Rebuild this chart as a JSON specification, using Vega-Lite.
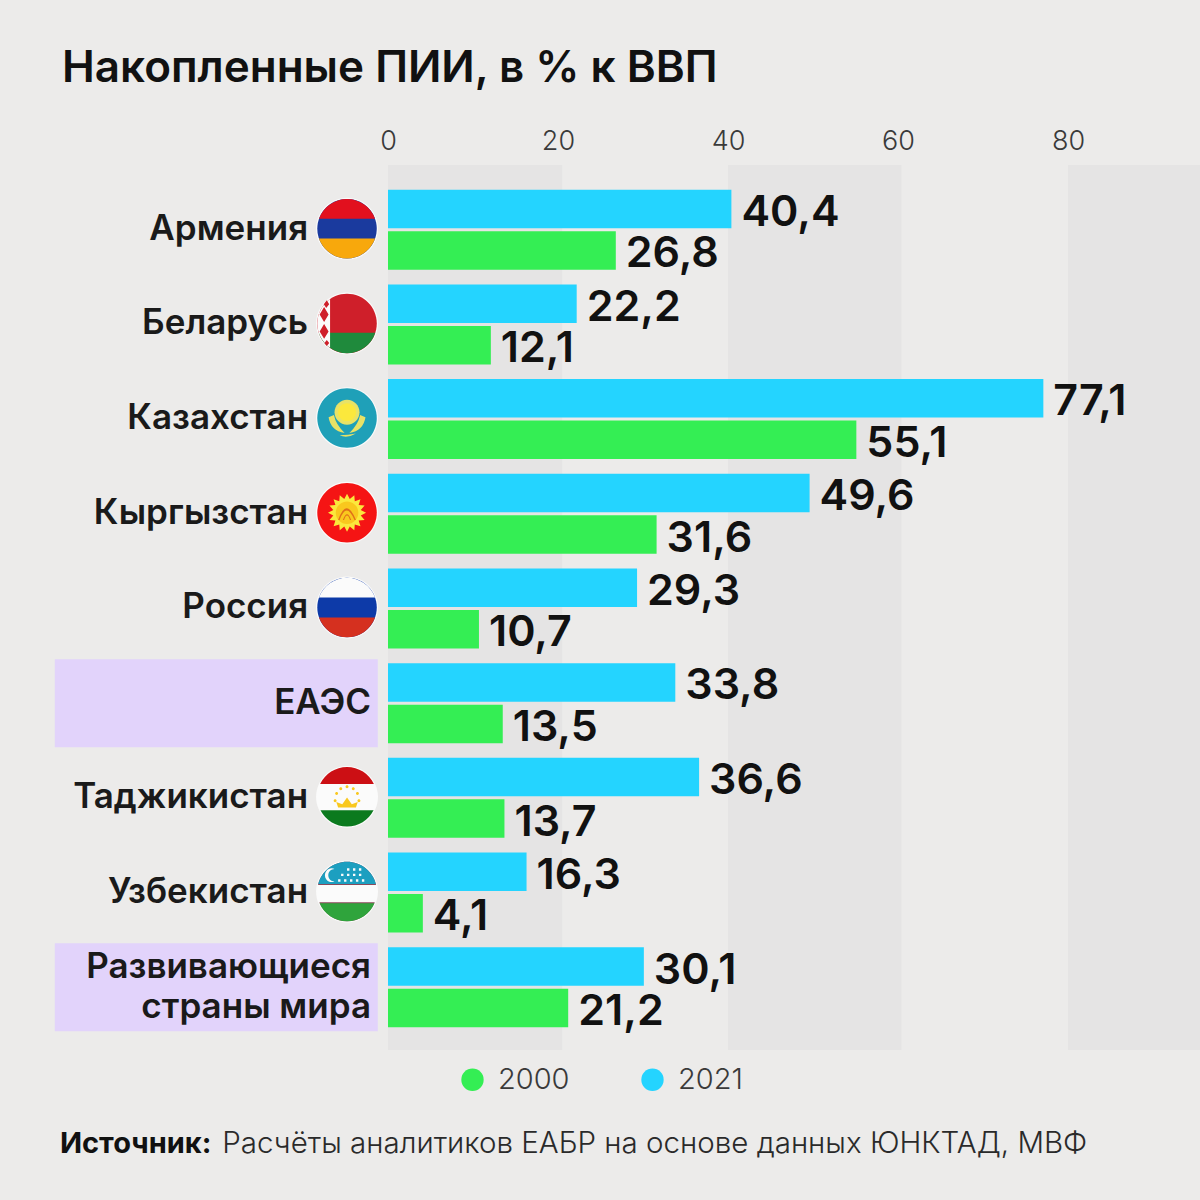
{"$schema":"https://vega.github.io/schema/vega-lite/v6.json","width":812,"height":885,"autosize":{"type":"none"},"padding":{"left":388,"top":165,"right":0,"bottom":150},"background":"#ecebea","config":{"view":{"stroke":null},"font":"Inter"},
"title":{"text":"Накопленные ПИИ, в % к ВВП","anchor":"start","frame":"group","dx":-326,"dy":-32,"fontSize":44,"fontWeight":600,"color":"#111111","font":"Inter"},
"datasets":{"bars":[
{"group":"Армения","year":"2021","value":40.4,"label":"40,4"},{"group":"Армения","year":"2000","value":26.8,"label":"26,8"},
{"group":"Беларусь","year":"2021","value":22.2,"label":"22,2"},{"group":"Беларусь","year":"2000","value":12.1,"label":"12,1"},
{"group":"Казахстан","year":"2021","value":77.1,"label":"77,1"},{"group":"Казахстан","year":"2000","value":55.1,"label":"55,1"},
{"group":"Кыргызстан","year":"2021","value":49.6,"label":"49,6"},{"group":"Кыргызстан","year":"2000","value":31.6,"label":"31,6"},
{"group":"Россия","year":"2021","value":29.3,"label":"29,3"},{"group":"Россия","year":"2000","value":10.7,"label":"10,7"},
{"group":"ЕАЭС","year":"2021","value":33.8,"label":"33,8"},{"group":"ЕАЭС","year":"2000","value":13.5,"label":"13,5"},
{"group":"Таджикистан","year":"2021","value":36.6,"label":"36,6"},{"group":"Таджикистан","year":"2000","value":13.7,"label":"13,7"},
{"group":"Узбекистан","year":"2021","value":16.3,"label":"16,3"},{"group":"Узбекистан","year":"2000","value":4.1,"label":"4,1"},
{"group":"Развивающиеся страны мира","year":"2021","value":30.1,"label":"30,1"},{"group":"Развивающиеся страны мира","year":"2000","value":21.2,"label":"21,2"}
],
"flags":[
{"group":"Армения","part":"halo","tone":"white"},{"group":"Армения","part":"disc","tone":"amblue"},{"group":"Армения","part":"top33","tone":"amred"},{"group":"Армения","part":"bot33","tone":"amber"},
{"group":"Беларусь","part":"halo","tone":"white"},{"group":"Беларусь","part":"disc","tone":"byred"},{"group":"Беларусь","part":"bot31","tone":"bygreen"},{"group":"Беларусь","part":"hoist","tone":"white"},{"group":"Беларусь","part":"orn","tone":"byred"},
{"group":"Казахстан","part":"halo","tone":"white"},{"group":"Казахстан","part":"disc","tone":"teal"},{"group":"Казахстан","part":"kzrays","tone":"pale"},{"group":"Казахстан","part":"kzsun","tone":"yellow"},{"group":"Казахстан","part":"kzwings","tone":"pale"},
{"group":"Кыргызстан","part":"halo","tone":"white"},{"group":"Кыргызстан","part":"disc","tone":"kgred"},{"group":"Кыргызстан","part":"kgstar","tone":"yellow"},{"group":"Кыргызстан","part":"kgsun","tone":"gold"},{"group":"Кыргызстан","part":"kgdome","tone":"kgdark"},
{"group":"Россия","part":"halo","tone":"white"},{"group":"Россия","part":"disc","tone":"rublue"},{"group":"Россия","part":"top33","tone":"white"},{"group":"Россия","part":"bot33","tone":"rured"},
{"group":"Таджикистан","part":"halo","tone":"white"},{"group":"Таджикистан","part":"disc","tone":"white"},{"group":"Таджикистан","part":"top43","tone":"tjred"},{"group":"Таджикистан","part":"bot45","tone":"tjgreen"},{"group":"Таджикистан","part":"crown","tone":"gold"},
{"group":"Узбекистан","part":"halo","tone":"white"},{"group":"Узбекистан","part":"disc","tone":"white"},{"group":"Узбекистан","part":"top22","tone":"uzline"},{"group":"Узбекистан","part":"top25","tone":"uzblue"},{"group":"Узбекистан","part":"bot36","tone":"uzline"},{"group":"Узбекистан","part":"bot39","tone":"uzgreen"},{"group":"Узбекистан","part":"uzstars","tone":"white"}
],
"names":[
{"group":"Армения","lines":"Армения","kind":"country"},{"group":"Беларусь","lines":"Беларусь","kind":"country"},{"group":"Казахстан","lines":"Казахстан","kind":"country"},{"group":"Кыргызстан","lines":"Кыргызстан","kind":"country"},{"group":"Россия","lines":"Россия","kind":"country"},{"group":"Таджикистан","lines":"Таджикистан","kind":"country"},{"group":"Узбекистан","lines":"Узбекистан","kind":"country"},
{"group":"ЕАЭС","lines":"ЕАЭС","kind":"bloc"},{"group":"Развивающиеся страны мира","lines":"Развивающиеся|страны мира","kind":"wrapped"}
]},
"layer":[
{"data":{"values":[{"from":0,"to":20.5},{"from":40,"to":60.4},{"from":80,"to":95.53}]},"mark":{"type":"rect","fill":"#e5e4e4"},
"encoding":{"x":{"field":"from","type":"quantitative","scale":{"domain":[0,95.53],"nice":false,"zero":false},"axis":{"orient":"top","title":null,"values":[0,20,40,60,80],"domain":false,"ticks":false,"grid":false,"labelFontSize":27,"labelColor":"#3a3a3a","labelFontWeight":300,"labelPadding":10,"labelFlush":false,"labelFont":"Inter"}},"x2":{"field":"to"}}},
{"data":{"name":"bars"},"transform":[{"filter":"datum.year==='2021'&&(datum.group==='ЕАЭС'||datum.group==='Развивающиеся страны мира')"}],"mark":{"type":"bar","fill":"#e2d3fb","height":{"band":0.93}},
"encoding":{"y":{"field":"group","type":"nominal","axis":null},"x":{"datum":-39.2,"type":"quantitative"},"x2":{"datum":-1.2}}},
{"data":{"name":"flags"},"mark":{"type":"point","filled":true,"opacity":1,"size":3540,"strokeWidth":0,"yOffset":-1},
"encoding":{"y":{"field":"group","type":"nominal","axis":null},"x":{"datum":-4.82,"type":"quantitative"},
"shape":{"field":"part","type":"nominal","legend":null,"scale":{"domain":["halo","disc","top33","bot33","bot31","hoist","orn","kzrays","kzsun","kzwings","kgstar","kgsun","kgdome","top43","bot45","crown","top22","top25","bot36","bot39","uzstars"],
"range":[
"M-1.04,0A1.04,1.04,0,1,1,1.04,0A1.04,1.04,0,1,1,-1.04,0Z",
"M-1,0A1,1,0,1,1,1,0A1,1,0,1,1,-1,0Z",
"M-0.943,-0.333A1,1,0,0,1,0.943,-0.333Z",
"M0.943,0.333A1,1,0,0,1,-0.943,0.333Z",
"M0.951,0.31A1,1,0,0,1,-0.951,0.31Z",
"M-0.57,-0.82A1,1,0,0,0,-0.57,0.82Z",
"M-0.77,-0.55L-0.62,-0.3L-0.77,-0.05L-0.92,-0.3ZM-0.77,-0.38L-0.72,-0.3L-0.77,-0.22L-0.82,-0.3ZM-0.77,0.02L-0.62,0.27L-0.77,0.52L-0.92,0.27ZM-0.77,0.19L-0.72,0.27L-0.77,0.35L-0.82,0.27ZM-0.68,-0.78L-0.6,-0.64L-0.7,-0.52L-0.78,-0.64ZM-0.68,0.56L-0.6,0.66L-0.68,0.76L-0.76,0.66Z",
"M-0.42,-0.2A0.42,0.42,0,1,1,0.42,-0.2A0.42,0.42,0,1,1,-0.42,-0.2Z",
"M-0.3,-0.2A0.3,0.3,0,1,1,0.3,-0.2A0.3,0.3,0,1,1,-0.3,-0.2Z",
"M-0.62,-0.03Q-0.55,0.42,-0.08,0.5Q-0.38,0.22,-0.44,-0.1ZM0.62,-0.03Q0.55,0.42,0.08,0.5Q0.38,0.22,0.44,-0.1ZM-0.25,0.58Q0,0.7,0.3,0.52Q0.05,0.58,-0.25,0.58Z",
"M0.64,0L0.461,0.092L0.591,0.245L0.391,0.261L0.452,0.452L0.261,0.391L0.245,0.591L0.092,0.461L0,0.64L-0.092,0.461L-0.245,0.591L-0.261,0.391L-0.452,0.452L-0.391,0.261L-0.591,0.245L-0.461,0.092L-0.64,0L-0.461,-0.092L-0.591,-0.245L-0.391,-0.261L-0.452,-0.452L-0.261,-0.391L-0.245,-0.591L-0.092,-0.461L0,-0.64L0.092,-0.461L0.245,-0.591L0.261,-0.391L0.452,-0.452L0.391,-0.261L0.591,-0.245L0.461,-0.092Z",
"M-0.38,0A0.38,0.38,0,1,1,0.38,0A0.38,0.38,0,1,1,-0.38,0Z",
"M-0.3,0.24Q-0.02,-0.55,0.3,0.24L0.25,0.24Q-0.02,-0.4,-0.25,0.24ZM-0.14,0.24Q0,-0.15,0.14,0.24L0.1,0.24Q0,-0.05,-0.1,0.24Z",
"M-0.903,-0.43A1,1,0,0,1,0.903,-0.43Z",
"M0.893,0.45A1,1,0,0,1,-0.893,0.45Z",
"M-0.3,0.36L-0.36,0.17L-0.16,0.25L0,0.02L0.16,0.25L0.36,0.17L0.3,0.36ZM-0.45,0.13A0.05,0.05,0,1,1,-0.35,0.13A0.05,0.05,0,1,1,-0.45,0.13ZM-0.4,-0.11A0.05,0.05,0,1,1,-0.3,-0.11A0.05,0.05,0,1,1,-0.4,-0.11ZM-0.26,-0.27A0.05,0.05,0,1,1,-0.16,-0.27A0.05,0.05,0,1,1,-0.26,-0.27ZM-0.05,-0.34A0.05,0.05,0,1,1,0.05,-0.34A0.05,0.05,0,1,1,-0.05,-0.34ZM0.16,-0.27A0.05,0.05,0,1,1,0.26,-0.27A0.05,0.05,0,1,1,0.16,-0.27ZM0.3,-0.11A0.05,0.05,0,1,1,0.4,-0.11A0.05,0.05,0,1,1,0.3,-0.11ZM0.35,0.13A0.05,0.05,0,1,1,0.45,0.13A0.05,0.05,0,1,1,0.35,0.13Z",
"M-0.976,-0.22A1,1,0,0,1,0.976,-0.22Z",
"M-0.968,-0.25A1,1,0,0,1,0.968,-0.25Z",
"M0.933,0.36A1,1,0,0,1,-0.933,0.36Z",
"M0.921,0.39A1,1,0,0,1,-0.921,0.39Z",
"M-0.42,-0.76A0.23,0.23,0,1,0,-0.42,-0.34A0.18,0.18,0,1,1,-0.42,-0.76ZM0.0,-0.78h0.08v0.08h-0.08ZM0.2,-0.78h0.08v0.08h-0.08ZM0.4,-0.78h0.08v0.08h-0.08ZM-0.2,-0.6h0.08v0.08h-0.08ZM0.0,-0.6h0.08v0.08h-0.08ZM0.2,-0.6h0.08v0.08h-0.08ZM0.4,-0.6h0.08v0.08h-0.08ZM-0.3,-0.41h0.08v0.08h-0.08ZM-0.1,-0.41h0.08v0.08h-0.08ZM0.1,-0.41h0.08v0.08h-0.08ZM0.3,-0.41h0.08v0.08h-0.08ZM0.5,-0.41h0.08v0.08h-0.08Z"
]}},
"fill":{"field":"tone","type":"nominal","legend":null,"scale":{"domain":["white","amblue","amred","amber","byred","bygreen","teal","pale","yellow","kgred","gold","kgdark","rublue","rured","tjred","tjgreen","uzline","uzblue","uzgreen"],"range":["#fbfbfb","#1a3a9e","#e2101e","#f8a80c","#cf1f2a","#1f8a3c","#1fa0b8","#e8e266","#fbe83c","#f51414","#f9c81e","#e0701a","#0d3aa8","#d5301f","#cc0f14","#0b7a1e","#8a4a5a","#1c9fc0","#2fa43c"]}}}},
{"data":{"name":"bars"},"mark":{"type":"bar"},
"encoding":{"y":{"field":"group","type":"nominal","axis":null,"scale":{"domain":["Армения","Беларусь","Казахстан","Кыргызстан","Россия","ЕАЭС","Таджикистан","Узбекистан","Развивающиеся страны мира"],"paddingInner":0,"paddingOuter":0.173,"align":0.53}},
"yOffset":{"field":"year","type":"nominal","scale":{"domain":["2021","2000"],"paddingInner":0.072,"paddingOuter":0.177}},
"x":{"field":"value","type":"quantitative"},
"color":{"field":"year","type":"nominal","scale":{"domain":["2000","2021"],"range":["#34ee54","#24d4ff"]},"legend":{"orient":"none","legendX":70,"legendY":900,"direction":"horizontal","columns":2,"title":null,"symbolType":"circle","symbolSize":500,"symbolStrokeWidth":0,"labelFontSize":29,"labelFontWeight":300,"labelColor":"#3a3a3a","labelOffset":11,"columnPadding":68,"labelFont":"Inter"}}}},
{"data":{"name":"bars"},"mark":{"type":"text","align":"left","baseline":"middle","dx":10,"dy":4,"fontSize":43,"fontWeight":600,"fill":"#111111"},
"encoding":{"y":{"field":"group","type":"nominal","axis":null},"yOffset":{"field":"year","type":"nominal"},"x":{"field":"value","type":"quantitative"},"text":{"field":"label"}}},
{"data":{"name":"names"},"transform":[{"filter":"datum.kind==='country'"}],"mark":{"type":"text","align":"right","baseline":"middle","fontSize":35,"fontWeight":600,"fill":"#1a1a1a","dy":-1},
"encoding":{"y":{"field":"group","type":"nominal","axis":null},"x":{"datum":-9.4,"type":"quantitative"},"text":{"field":"lines"}}},
{"data":{"name":"names"},"transform":[{"filter":"datum.kind==='bloc'"}],"mark":{"type":"text","align":"right","baseline":"middle","fontSize":35,"fontWeight":600,"fill":"#1a1a1a","dy":0},
"encoding":{"y":{"field":"group","type":"nominal","axis":null},"x":{"datum":-2,"type":"quantitative"},"text":{"field":"lines"}}},
{"data":{"name":"names"},"transform":[{"filter":"datum.kind==='wrapped'"}],"mark":{"type":"text","align":"right","baseline":"middle","fontSize":35,"fontWeight":600,"fill":"#1a1a1a","lineBreak":"|","lineHeight":40,"dy":-20},
"encoding":{"y":{"field":"group","type":"nominal","axis":null},"x":{"datum":-2,"type":"quantitative"},"text":{"field":"lines"}}},
{"data":{"values":[{"note":"Источник:"}]},"mark":{"type":"text","align":"left","baseline":"middle","fontSize":29,"fontWeight":700,"fill":"#111111","yOffset":157},
"encoding":{"y":{"datum":"Развивающиеся страны мира","type":"nominal","axis":null},"x":{"datum":-38.6,"type":"quantitative"},"text":{"field":"note"}}},
{"data":{"values":[{"note":"Расчёты аналитиков ЕАБР на основе данных ЮНКТАД, МВФ"}]},"mark":{"type":"text","align":"left","baseline":"middle","fontSize":29.5,"fontWeight":300,"fill":"#2a2a2a","yOffset":157},
"encoding":{"y":{"datum":"Развивающиеся страны мира","type":"nominal","axis":null},"x":{"datum":-19.5,"type":"quantitative"},"text":{"field":"note"}}}
]}
